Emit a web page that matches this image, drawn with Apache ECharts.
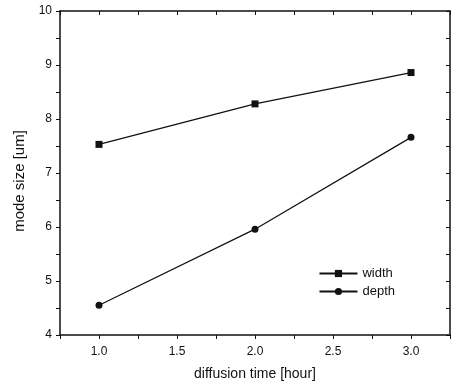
<!DOCTYPE html>
<html>
<head>
<meta charset="utf-8">
<script src="https://cdn.jsdelivr.net/npm/echarts@6/dist/echarts.min.js"></script>
<style>
  html, body { margin: 0; padding: 0; background: #fff; }
  #chart { width: 458px; height: 386px; }
</style>
</head>
<body>
<div id="chart"></div>
<script>
const diffusionTime = [1.0, 2.0, 3.0]
const widthValues = [7.53, 8.28, 8.86]
const depthValues = [4.55, 5.96, 7.66]

const FONT = '"Liberation Sans", Arial, sans-serif'
const INK = '#111'

const chart = echarts.init(document.getElementById('chart'))

const baseAxis = {
  axisLine: { show: true, lineStyle: { color: INK, width: 1.5 } },
  splitLine: { show: false },
  minorSplitLine: { show: false },
}

chart.setOption({
  animation: false,
  grid: { left: 60, right: 8, top: 11, bottom: 49 },
  legend: {
    right: 58,
    top: 262,
    orient: 'vertical',
    itemWidth: 38,
    itemHeight: 9,
    itemGap: 5,
    textStyle: { fontFamily: FONT, fontSize: 13, color: INK },
    data: ['width', 'depth'],
  },
  xAxis: [
    {
      ...baseAxis,
      type: 'value',
      min: 0.75,
      max: 3.25,
      interval: 0.25,
      name: 'diffusion time [hour]',
      nameLocation: 'middle',
      nameGap: 32,
      nameTextStyle: { fontFamily: FONT, fontSize: 14, color: INK },
      axisTick: { show: true, length: 4, inside: false, lineStyle: { color: INK } },
      axisLabel: {
        fontFamily: FONT, fontSize: 12, color: INK, margin: 11,
        formatter: v => (Math.abs(v * 2 - Math.round(v * 2)) < 1e-6 && v > 0.9 && v < 3.1) ? v.toFixed(1) : '',
      },
    },
    {
      ...baseAxis,
      type: 'value',
      position: 'top',
      min: 0.75,
      max: 3.25,
      interval: 0.25,
      axisTick: { show: true, length: 4, inside: true, lineStyle: { color: INK } },
      axisLabel: { show: false },
    },
  ],
  yAxis: [
    {
      ...baseAxis,
      type: 'value',
      min: 4,
      max: 10,
      interval: 0.5,
      name: 'mode size [um]',
      nameLocation: 'middle',
      nameGap: 33,
      nameTextStyle: { fontFamily: FONT, fontSize: 15, color: INK, padding: [0, 0, 0, -16] },
      axisTick: { show: true, length: 4, inside: false, lineStyle: { color: INK } },
      axisLabel: {
        fontFamily: FONT, fontSize: 12, color: INK, margin: 8,
        formatter: v => Number.isInteger(v) ? String(v) : '',
      },
    },
    {
      ...baseAxis,
      type: 'value',
      position: 'right',
      min: 4,
      max: 10,
      interval: 0.5,
      axisTick: { show: true, length: 4, inside: true, lineStyle: { color: INK } },
      axisLabel: { show: false },
    },
  ],
  series: [
    {
      name: 'width',
      type: 'line',
      data: diffusionTime.map((t, i) => [t, widthValues[i]]),
      symbol: 'rect',
      symbolSize: 7,
      lineStyle: { color: INK, width: 1.2 },
      itemStyle: { color: INK },
    },
    {
      name: 'depth',
      type: 'line',
      data: diffusionTime.map((t, i) => [t, depthValues[i]]),
      symbol: 'circle',
      symbolSize: 7,
      lineStyle: { color: INK, width: 1.2 },
      itemStyle: { color: INK },
    },
  ],
})
</script>
</body>
</html>
